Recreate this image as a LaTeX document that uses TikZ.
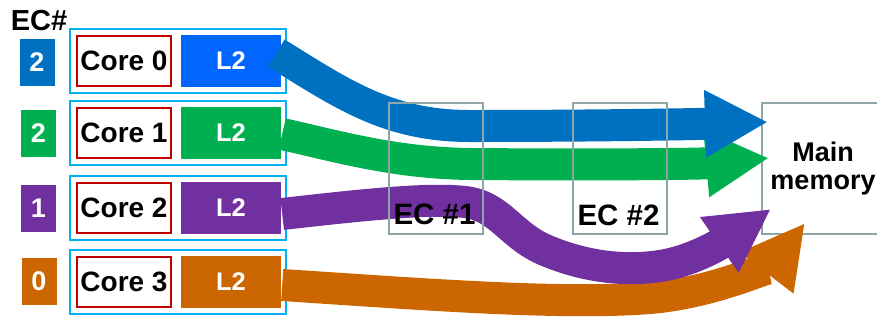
\documentclass[tikz,border=0pt]{standalone}
\usepackage{fontspec}
\setmainfont{Liberation Sans}
\usetikzlibrary{arrows.meta,calc}

\definecolor{ecblue}{HTML}{0070C0}
\definecolor{ltwoblue}{HTML}{0066FF}
\definecolor{ecgreen}{HTML}{00B050}
\definecolor{ecpurple}{HTML}{7030A0}
\definecolor{ecorange}{HTML}{CC6600}
\definecolor{frameblue}{HTML}{00B0F0}
\definecolor{corered}{HTML}{C00000}
\definecolor{ecgray}{HTML}{8FA6A8}

\newcommand\fsTitle{\fontsize{29}{29}\selectfont\bfseries}
\newcommand\fsCore{\fontsize{28}{28}\selectfont\bfseries}
\newcommand\fsLtwo{\fontsize{25.5}{25.5}\selectfont\bfseries}
\newcommand\fsNum{\fontsize{27}{27}\selectfont\bfseries}
\newcommand\fsEC{\fontsize{29.5}{29.5}\selectfont\bfseries}
\newcommand\fsMem{\fontsize{27}{28}\selectfont\bfseries}

\begin{document}
\begin{tikzpicture}[x=1pt,y=-1pt,
  ecnum/.style={fill=#1, minimum width=35pt, minimum height=47pt, inner sep=0pt,
    text=white, font=\fsNum},
  coreframe/.style={draw=frameblue, line width=2pt, minimum width=216pt,
    minimum height=64pt, inner sep=0pt},
  corebox/.style={draw=corered, line width=1.8pt, minimum width=94pt,
    minimum height=50pt, inner sep=0pt, font=\fsCore},
  ltwobox/.style={fill=#1, minimum width=100pt, minimum height=52pt, inner sep=0pt,
    text=white, font=\fsLtwo},
  ecbox/.style={draw=ecgray, line width=2pt, minimum width=94pt,
    minimum height=131pt, inner sep=0pt},
  eclabel/.style={anchor=base, inner sep=0pt, font=\fsEC},
  flow/.style={draw=#1, line width=32pt, -{Triangle[width=63pt,length=63pt]}}
]
\useasboundingbox (0,0) rectangle (877,322);

% EC# column
\node[anchor=base, inner sep=0pt, font=\fsTitle] (ectitle) at (39,30) {EC\#};
\node[ecnum=ecblue]   (n0) at (37,62)    {2};
\node[ecnum=ecgreen]  (n1) at (38.5,133) {2};
\node[ecnum=ecpurple] (n2) at (38.5,208.5) {1};
\node[ecnum=ecorange] (n3) at (39,281)   {0};

% cores with their L2 caches
\node[coreframe] (f0) at (178,61)  {};
\node[coreframe] (f1) at (178,133) {};
\node[coreframe] (f2) at (178,208) {};
\node[coreframe] (f3) at (178,282) {};

\node[corebox] (c0) at (124,61)  {Core 0};
\node[corebox] (c1) at (124,133) {Core 1};
\node[corebox] (c2) at (124,208) {Core 2};
\node[corebox] (c3) at (124,282) {Core 3};

\node[ltwobox=ltwoblue] (l2a) at (231,61)  {L2};
\node[ltwobox=ecgreen]  (l2b) at (231,133) {L2};
\node[ltwobox=ecpurple] (l2c) at (231,208) {L2};
\node[ltwobox=ecorange] (l2d) at (231,282) {L2};

% main memory
\node[draw=ecgray, fill=white, line width=2pt, minimum width=122pt,
  minimum height=131pt, inner sep=0pt, align=center, font=\fsMem]
  (mem) at (823,168.5) {Main\\memory};

% write-back flows
\draw[flow=ecorange] ($(l2d.east)+(1,3)$)
  .. controls (420,294) and (560,305) .. (650,298)
  .. controls (720,292) and (775,262) .. ($(mem.west)+(44,54.5)$);

\draw[flow=ecpurple] ($(l2c.east)+(1,6)$)
  .. controls (370,204) and (430,198) .. (465,202)
  .. controls (500,206) and (510,235) .. (545,250)
  .. controls (580,265) and (620,272) .. (660,266)
  .. controls (700,260) and (735,234) .. ($(mem.west)+(10,40.5)$);

\draw[flow=ecgreen] ($(l2b.east)+(1,1)$)
  .. controls (340,147) and (395,163) .. (470,164)
  .. controls (600,165) and (700,164) .. ($(mem.west)+(8,-10.5)$);

\draw[flow=ecblue] ($(l2a.east)+(-5,-8)$)
  .. controls (345,96) and (390,126) .. (470,126)
  .. controls (600,126) and (700,124) .. ($(mem.west)+(7,-46.5)$);

% eviction controllers
\node[ecbox] (ec1) at (435.5,168.5) {};
\node[ecbox] (ec2) at (619.5,168.5) {};
\node[eclabel] (ec1lbl) at (434.5,224) {EC \#1};
\node[eclabel] (ec2lbl) at (618.5,225) {EC \#2};
\end{tikzpicture}
\end{document}
